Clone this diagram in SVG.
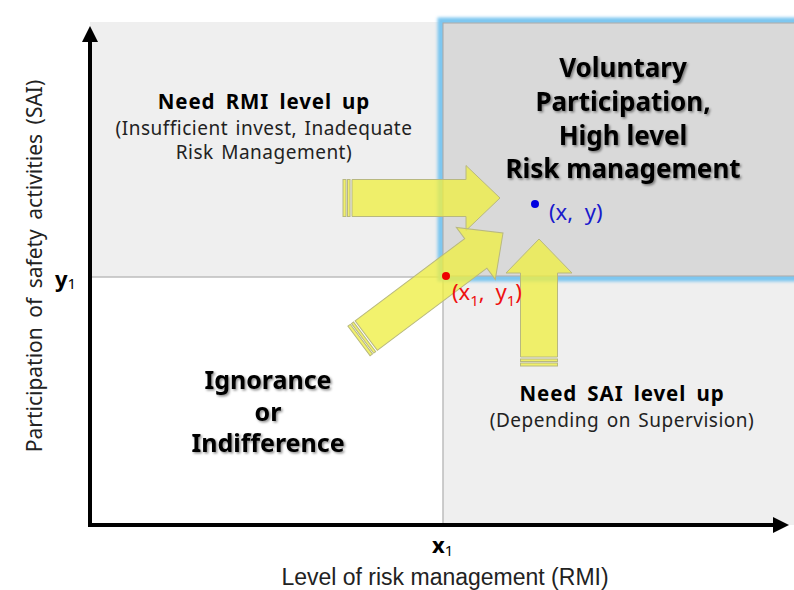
<svg xmlns="http://www.w3.org/2000/svg" width="794" height="590" viewBox="0 0 794 590">
<defs>
<style>
.t{font-family:"Noto Sans","DejaVu Sans",sans-serif;fill:#000}
.b{font-weight:bold}
.big{font-size:26px;font-weight:bold}
.ign{font-size:25px;font-weight:bold}
.mid{font-size:20.5px;font-weight:bold;letter-spacing:0.9px;word-spacing:4px}
.sm{font-size:19px;fill:#222;letter-spacing:0.5px;word-spacing:2px}
.arrow{fill:#eeee44;fill-opacity:0.78;stroke:#b8b880;stroke-width:1}
.div{stroke:#bdbdbd;stroke-width:1.5}
</style>
<filter id="sh" x="-10%" y="-20%" width="130%" height="150%">
<feDropShadow dx="1.5" dy="1.5" stdDeviation="1.2" flood-color="#000" flood-opacity="0.45"/>
</filter>
<filter id="glow" x="-5%" y="-10%" width="110%" height="120%">
<feGaussianBlur stdDeviation="1.6"/>
</filter>
<marker id="ah" markerWidth="4" markerHeight="4" refX="2" refY="2" orient="auto" markerUnits="strokeWidth">
<path d="M0,0 L4,2 L0,4 Z" fill="#000"/>
</marker>
</defs>
<rect width="794" height="590" fill="#fff"/>
<g id="quadrants">
<rect x="90" y="22" width="353" height="255" fill="#efefef"/>
<rect x="443" y="277" width="351" height="248" fill="#efefef"/>
<line class="div" x1="90" y1="277" x2="443" y2="277"/>
<line class="div" x1="443" y1="22" x2="443" y2="525"/>
</g>
<g id="target-box">
<rect x="441" y="21" width="360" height="257" fill="none" stroke="#7cc6f0" stroke-width="7" filter="url(#glow)"/>
<rect x="443" y="23" width="360" height="253" fill="#d9d9d9" stroke="#a8a8a8" stroke-width="1"/>
</g>
<g id="axes">
<line x1="90" y1="527" x2="90" y2="34" stroke="#000" stroke-width="4" marker-end="url(#ah)"/>
<line x1="88" y1="525" x2="781" y2="525" stroke="#000" stroke-width="4" marker-end="url(#ah)"/>
<text class="t" x="42" y="266" font-size="21" style="fill:#222;word-spacing:4px" text-anchor="middle" transform="rotate(-90 42 266)">Participation of safety activities (SAI)</text>
<text x="445" y="585" font-family="Liberation Sans, Arial, sans-serif" font-size="23" fill="#222" text-anchor="middle">Level of risk management (RMI)</text>
<text class="t b" x="55" y="287" font-size="22">y<tspan font-size="15" font-weight="normal" dy="2">1</tspan></text>
<text class="t b" x="432" y="553" font-size="22">x<tspan font-size="15" font-weight="normal" dy="3">1</tspan></text>
</g>
<g id="connectors">
<g class="arrow" transform="translate(343 198)">
<rect x="0" y="-18.5" width="3" height="37"/><rect x="4.5" y="-18.5" width="2.5" height="37"/>
<path d="M9,-18.5 H123 V-32.5 L157,0 L123,32.5 V18.5 H9 Z"/>
</g>
<g class="arrow" transform="translate(359 341) rotate(-36.87)">
<rect x="0" y="-18.5" width="3" height="37"/><rect x="4.5" y="-18.5" width="2.5" height="37"/>
<path d="M9,-18.5 H146 V-32.5 L180,0 L146,32.5 V18.5 H9 Z"/>
</g>
<g class="arrow" transform="translate(539 366) rotate(-90)">
<rect x="0" y="-18.5" width="3" height="37"/><rect x="4.5" y="-18.5" width="2.5" height="37"/>
<path d="M9,-18.5 H93 V-33 L127,0 L93,33 V18.5 H9 Z"/>
</g>
</g>
<g id="node-rmi">
<text class="t mid" x="264" y="109" text-anchor="middle">Need RMI level up</text>
<text class="t sm" x="264" y="135" text-anchor="middle">(Insufficient invest, Inadequate</text>
<text class="t sm" x="264" y="159" text-anchor="middle">Risk Management)</text>
</g>
<g id="node-voluntary" filter="url(#sh)">
<text class="t big" x="623" y="77" text-anchor="middle">Voluntary</text>
<text class="t big" x="623" y="111" text-anchor="middle">Participation,</text>
<text class="t big" x="623" y="145" text-anchor="middle">High level</text>
<text class="t big" x="623" y="178" text-anchor="middle">Risk management</text>
</g>
<g id="node-ignorance" filter="url(#sh)">
<text class="t ign" x="268" y="389" text-anchor="middle">Ignorance</text>
<text class="t ign" x="268" y="421" text-anchor="middle">or</text>
<text class="t ign" x="268" y="452" text-anchor="middle">Indifference</text>
</g>
<g id="node-sai">
<text class="t mid" x="622" y="401" text-anchor="middle">Need SAI level up</text>
<text class="t sm" x="622" y="427" text-anchor="middle">(Depending on Supervision)</text>
</g>
<g id="point-xy">
<circle cx="535" cy="204" r="4" fill="#0000e0"/>
<text class="t" x="549" y="220" font-size="22" style="fill:#1a1acc;word-spacing:6px">(x, y)</text>
</g>
<g id="point-x1y1">
<circle cx="446" cy="276" r="4" fill="#ee0000"/>
<text class="t" x="452" y="300" font-size="22" style="fill:#ee1111;word-spacing:5px">(x<tspan font-size="15" dy="6">1</tspan><tspan dy="-6">, y</tspan><tspan font-size="15" dy="6">1</tspan><tspan dy="-6">)</tspan></text>
</g>
</svg>
